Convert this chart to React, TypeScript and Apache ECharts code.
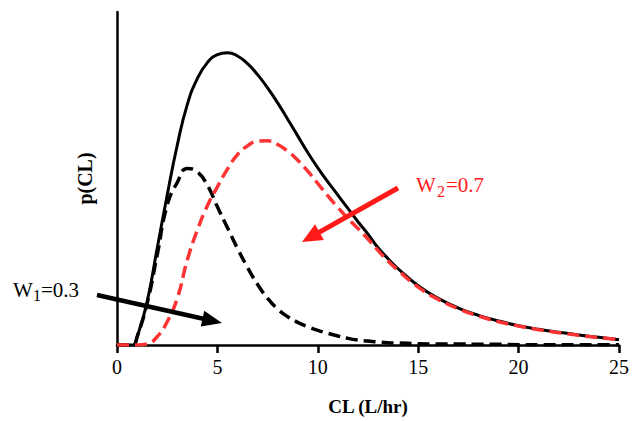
import React, { useEffect, useRef } from "react";
import * as echarts from "echarts";

const xTicks = [0, 5, 10, 15, 20, 25];
const clX = [0, 0.5, 0.8, 1, 1.5, 2, 2.5, 3, 3.5, 4, 4.5, 5, 5.5, 6, 6.5, 7, 7.5, 8, 8.5, 9, 9.5, 10, 10.5, 11, 11.5, 12, 12.5, 13, 13.5, 14, 15, 16, 17, 18, 19, 20, 21, 22, 23, 24, 25];
const totalP = [0, 0, 0, 0.024, 0.13, 0.29, 0.45, 0.6, 0.722, 0.8, 0.848, 0.872, 0.878, 0.868, 0.845, 0.812, 0.772, 0.727, 0.678, 0.628, 0.578, 0.532, 0.49, 0.45, 0.41, 0.37, 0.333, 0.292, 0.259, 0.229, 0.178, 0.14, 0.111, 0.089, 0.072, 0.058, 0.047, 0.038, 0.03, 0.023, 0.016];
const comp1P = [0, 0, 0, 0.024, 0.125, 0.27, 0.42, 0.488, 0.53, 0.52, 0.48, 0.415, 0.352, 0.29, 0.233, 0.182, 0.14, 0.108, 0.085, 0.068, 0.055, 0.044, 0.035, 0.027, 0.02, 0.015, 0.012, 0.009, 0.007, 0.006, 0.004, 0.003, 0.003, 0.002, 0.002, 0.001, 0.001, 0.001, 0.001, 0.001, 0.001];
const comp2P = [0, 0, 0, 0, 0.003, 0.025, 0.07, 0.14, 0.255, 0.345, 0.418, 0.475, 0.528, 0.572, 0.598, 0.612, 0.613, 0.602, 0.582, 0.555, 0.522, 0.485, 0.448, 0.413, 0.38, 0.35, 0.318, 0.284, 0.252, 0.224, 0.174, 0.137, 0.109, 0.087, 0.07, 0.057, 0.046, 0.037, 0.029, 0.022, 0.016];

const serif = "Times New Roman, Liberation Serif, serif";

function arrow(x1: number, y1: number, x2: number, y2: number, color: string, width: number, headLen: number, headHalf: number) {
  const dx = x2 - x1;
  const dy = y2 - y1;
  const len = Math.sqrt(dx * dx + dy * dy);
  const ux = dx / len;
  const uy = dy / len;
  const bx = x2 - ux * headLen;
  const by = y2 - uy * headLen;
  const px = -uy;
  const py = ux;
  return [
    { type: "line", shape: { x1, y1, x2: bx + ux * 2, y2: by + uy * 2 }, style: { stroke: color, lineWidth: width }, z: 100 },
    {
      type: "polygon",
      shape: { points: [[x2, y2], [bx + px * headHalf, by + py * headHalf], [bx - px * headHalf, by - py * headHalf]] },
      style: { fill: color },
      z: 100,
    },
  ];
}

function label(text: string, left: number, top: number, size: number, color: string) {
  return { type: "text", left, top, style: { text, fontFamily: serif, fontSize: size, fill: color }, z: 100 };
}

export default function App() {
  const ref = useRef<HTMLDivElement>(null);
  useEffect(() => {
    if (!ref.current) return;
    const chart = echarts.init(ref.current, null, { renderer: "svg" });
    const pair = (ys: number[]) => clX.map((x, i) => [x, ys[i]]);
    chart.setOption({
      animation: false,
      backgroundColor: "#ffffff",
      grid: { left: 117, right: 11, top: 12, bottom: 73 },
      xAxis: {
        type: "value",
        min: 0,
        max: 25,
        interval: 5,
        name: "CL (L/hr)",
        nameLocation: "middle",
        nameGap: 52,
        nameTextStyle: { fontFamily: serif, fontWeight: "bold", fontSize: 19, color: "#000" },
        axisLine: { show: true, lineStyle: { color: "#000", width: 2.5 } },
        axisTick: { show: true, length: 8, lineStyle: { color: "#000", width: 2.5 } },
        axisLabel: {
          fontFamily: serif,
          fontSize: 20,
          color: "#000",
          margin: 12,
          formatter: (v: number) => (xTicks.includes(v) ? String(v) : ""),
        },
        splitLine: { show: false },
      },
      yAxis: {
        type: "value",
        min: 0,
        max: 1,
        name: "p(CL)",
        nameLocation: "middle",
        nameGap: 22,
        nameRotate: 90,
        nameTextStyle: { fontFamily: serif, fontWeight: "bold", fontSize: 20, color: "#000" },
        axisLine: { show: true, lineStyle: { color: "#000", width: 2.5 } },
        axisTick: { show: false },
        axisLabel: { show: false },
        splitLine: { show: false },
      },
      series: [
        {
          name: "Total",
          type: "line",
          data: pair(totalP),
          showSymbol: false,
          smooth: 0.5,
          lineStyle: { color: "#000", width: 3 },
          z: 2,
        },
        {
          name: "W1 component",
          type: "line",
          data: pair(comp1P),
          showSymbol: false,
          smooth: 0.5,
          lineStyle: { color: "#000", width: 3.5, type: [12, 6] },
          z: 3,
        },
        {
          name: "W2 component",
          type: "line",
          data: pair(comp2P),
          showSymbol: false,
          smooth: 0.5,
          lineStyle: { color: "#ff3333", width: 3.5, type: [12, 6] },
          z: 4,
        },
      ],
      graphic: [
        label("W", 13, 279, 21, "#000"),
        label("1", 33, 287, 16, "#000"),
        label("=0.3", 41, 279, 21, "#000"),
        label("W", 416, 174, 21, "#ff1a1a"),
        label("2", 437, 183, 16, "#ff1a1a"),
        label("=0.7", 446, 174, 21, "#ff1a1a"),
        ...arrow(97, 295, 222, 323, "#000", 4.5, 20, 8),
        ...arrow(398, 188, 302, 242, "#ff1a1a", 5, 20, 9),
      ],
    });
    return () => chart.dispose();
  }, []);
  return <div ref={ref} style={{ position: "fixed", left: 0, top: 0, width: 632, height: 421 }} />;
}
